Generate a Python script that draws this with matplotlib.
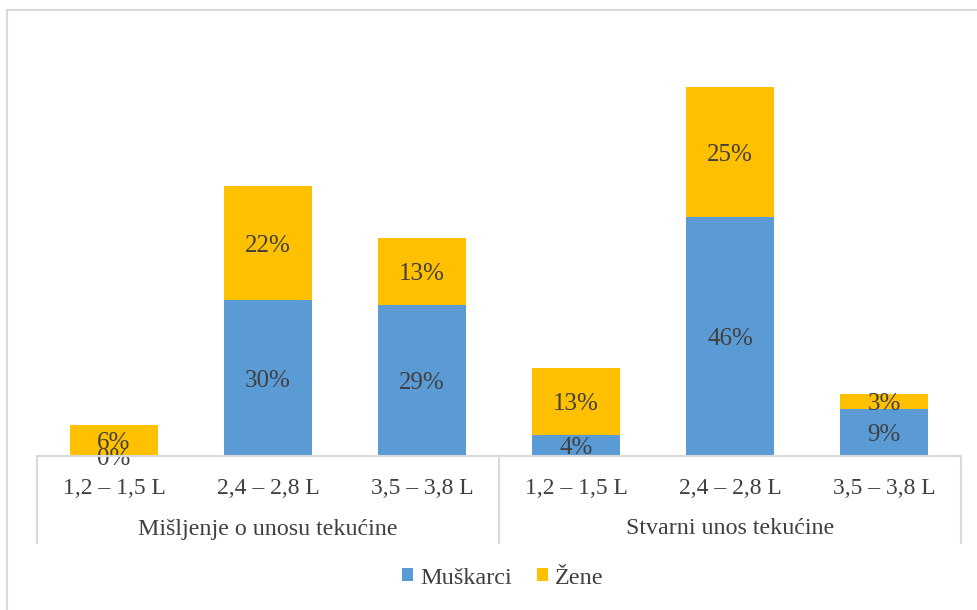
import matplotlib.pyplot as plt
from matplotlib.lines import Line2D
from matplotlib.patches import Patch

groups = ["Mišljenje o unosu tekućine", "Stvarni unos tekućine"]
categories = ["1,2 – 1,5 L", "2,4 – 2,8 L", "3,5 – 3,8 L"]
muskarci = [0, 30, 29, 4, 46, 9]
zene = [6, 22, 13, 13, 25, 3]
series_names = ["Muškarci", "Žene"]
colors = ["#5B9BD5", "#FFC000"]
text_color = "#404040"
grid_color = "#D9D9D9"

plt.rcParams['font.family'] = ['Liberation Serif', 'DejaVu Serif']

W, H = 977, 610
fig = plt.figure(figsize=(W / 100, H / 100), dpi=100)

def fx(x):
    return x / W

def fy(y):
    return 1 - y / H

ax = fig.add_axes([fx(37), fy(456), fx(961) - fx(37), fy(40) - fy(456)])

n = len(muskarci)
x = list(range(n))
width = 88 / 154
ax.bar(x, muskarci, width=width, color=colors[0], zorder=2)
ax.bar(x, zene, width=width, bottom=muskarci, color=colors[1], zorder=2)

for i in range(n):
    m = muskarci[i]
    z = zene[i]
    ax.annotate(f"{m}%", (i, m / 2), xytext=(0, -2), textcoords="offset points",
                ha="center", va="center", fontsize=18, color=text_color, zorder=3)
    ax.annotate(f"{z}%", (i, m + z / 2), xytext=(0, -2), textcoords="offset points",
                ha="center", va="center", fontsize=18, color=text_color, zorder=3)

ax.set_xlim(-0.5, n - 0.5)
ax.set_ylim(0, 80)
ax.axis("off")

# baseline
fig.add_artist(Line2D([fx(37), fx(961)], [fy(456), fy(456)], color=grid_color, lw=1.5))
# separators
for xs in [37, 499, 961]:
    fig.add_artist(Line2D([fx(xs), fx(xs)], [fy(456), fy(543)], color=grid_color, lw=1.5))

# category labels
for i in range(n):
    xc = 37 + 154 * (i + 0.5)
    fig.text(fx(xc), fy(488), categories[i % 3], ha="center", va="center", fontsize=17, color=text_color)
for g, name in enumerate(groups):
    xc = 37 + 462 * (g + 0.5)
    fig.text(fx(xc), fy(529), name, ha="center", va="center", fontsize=17.3, color=text_color)

# outer border
fig.add_artist(Line2D([fx(7), fx(7)], [fy(10), 0], color=grid_color, lw=1.5))
fig.add_artist(Line2D([fx(7), 1], [fy(10), fy(10)], color=grid_color, lw=1.5))

handles = [Patch(facecolor=colors[0]), Patch(facecolor=colors[1])]
fig.legend(handles, series_names, loc="center", bbox_to_anchor=(fx(503), fy(578)), ncol=2,
           frameon=False, fontsize=17.5, labelcolor=text_color, handlelength=0.45, handleheight=0.45,
           handletextpad=0.3, columnspacing=1.0)

fig.savefig("out.png", dpi=100)
